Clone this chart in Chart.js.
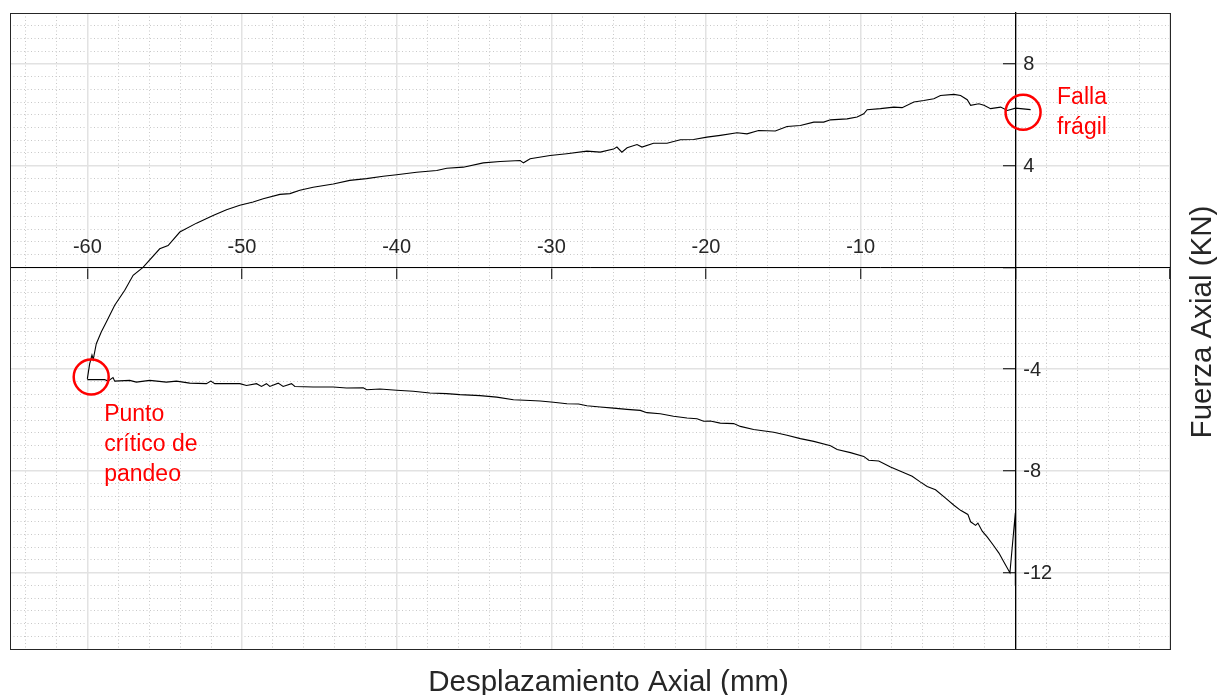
<!DOCTYPE html>
<html>
<head>
<meta charset="utf-8">
<script src="https://cdn.jsdelivr.net/npm/chart.js@4.4.1/dist/chart.umd.min.js"></script>
<style>
  html, body { margin: 0; padding: 0; background: #fff; }
  canvas { display: block; }
</style>
</head>
<body>
<canvas id="grafico" width="1228" height="695"></canvas>
<script>
// Tramo de compresion (de 0 hacia el punto de pandeo)
const tramoInferiorX = [0, 0, -0.35, -0.74, -1.06, -1.42, -1.81, -2.14, -2.42, -2.57,
  -2.89, -3.07, -3.54, -3.97, -4.51, -5.16, -5.7, -6.13, -6.67, -7.31,
  -8.07, -8.83, -9.48, -9.8, -10.66, -11.52, -11.95, -13.03, -13.9, -14.76,
  -15.62, -16.92, -17.78, -18.21, -19.08, -19.72, -20.15, -20.58, -21.23, -22.1,
  -22.96, -23.82, -24.25, -25.11, -25.98, -26.84, -27.7, -28.24, -28.99, -29.86,
  -30.72, -31.37, -32.45, -33.53, -34.61, -35.91, -36.77, -37.85, -38.93, -40.0,
  -41.08, -41.94, -42.16, -43.24, -44.1, -45.4, -46.58, -46.8, -47.34, -47.66,
  -48.2, -48.42, -48.74, -49.06, -49.71, -50.14, -51.76, -52.02, -52.3, -53.38,
  -54.24, -54.89, -55.97, -56.83, -57.26, -58.23, -58.34, -58.67, -58.88, -60.0];
const tramoInferiorY = [-12.5, -9.65, -12.0, -11.58, -11.23, -10.92, -10.6, -10.37, -10.05, -10.14,
  -10.0, -9.71, -9.55, -9.35, -9.07, -8.74, -8.61, -8.44, -8.21, -8.04,
  -7.85, -7.61, -7.58, -7.43, -7.28, -7.16, -7.01, -6.84, -6.73, -6.6,
  -6.48, -6.37, -6.25, -6.14, -6.12, -6.04, -6.05, -5.95, -5.92, -5.85,
  -5.75, -5.71, -5.62, -5.58, -5.53, -5.49, -5.44, -5.37, -5.36, -5.3,
  -5.25, -5.23, -5.2, -5.1, -5.04, -5.0, -4.96, -4.94, -4.87, -4.83,
  -4.78, -4.81, -4.73, -4.74, -4.7, -4.7, -4.68, -4.57, -4.68, -4.55,
  -4.68, -4.57, -4.68, -4.57, -4.64, -4.57, -4.57, -4.47, -4.57, -4.55,
  -4.47, -4.51, -4.44, -4.51, -4.44, -4.47, -4.33, -4.47, -4.41, -4.41];

// Tramo de retorno (del pandeo hasta la falla)
const tramoSuperiorX = [-60.0, -59.85, -59.7, -59.62, -59.42, -59.1, -58.77, -58.23, -57.58, -57.04, -56.4, -55.32,
  -54.78, -54.02, -52.94, -51.87, -51.0, -50.14, -49.28, -48.63, -47.55, -46.9,
  -46.26, -45.4, -44.1, -43.03, -41.95, -40.87, -40.0, -38.71, -37.41, -36.76,
  -35.69, -34.4, -33.31, -32.02, -31.8, -31.37, -30.08, -29.0, -27.7, -26.84,
  -25.98, -25.76, -25.44, -25.1, -24.46, -24.14, -23.39, -22.52, -21.66, -20.8,
  -19.94, -19.07, -17.99, -17.35, -16.6, -15.52, -14.76, -13.9, -13.03, -12.39,
  -11.95, -10.88, -10.23, -9.8, -9.58, -8.72, -7.86, -7.32, -6.56, -5.92,
  -5.27, -4.84, -3.97, -3.54, -3.11, -2.89, -2.36, -2.03, -1.6, -0.95,
  -0.52, 0.02, 0.34, 0.99];
const tramoSuperiorY = [-4.38, -3.79, -3.45, -3.62, -3.0, -2.54, -2.15, -1.49, -0.9, -0.31, 0.0, 0.73,
  0.86, 1.39, 1.74, 2.04, 2.27, 2.44, 2.57, 2.7, 2.87, 2.9,
  3.03, 3.15, 3.28, 3.42, 3.49, 3.58, 3.64, 3.74, 3.81, 3.9,
  3.94, 4.11, 4.16, 4.2, 4.11, 4.27, 4.4, 4.47, 4.57, 4.53,
  4.65, 4.73, 4.53, 4.7, 4.83, 4.73, 4.88, 4.88, 5.02, 5.03,
  5.12, 5.19, 5.29, 5.25, 5.38, 5.36, 5.54, 5.58, 5.71, 5.71,
  5.8, 5.84, 5.91, 6.04, 6.2, 6.24, 6.3, 6.28, 6.5, 6.56,
  6.63, 6.76, 6.8, 6.76, 6.59, 6.37, 6.43, 6.37, 6.24, 6.3,
  6.17, 6.26, 6.24, 6.2];

// Marcas rojas: centro del circulo (en unidades del grafico) y texto
const notasX = [0.5, -59.75];
const notasY = [6.1, -4.31];
const notasTexto = [["Falla", "frágil"], ["Punto", "crítico de", "pandeo"]];

const tituloX = "Desplazamiento Axial (mm)";
const tituloY = "Fuerza Axial (KN)";

const puntos = (xs, ys) => xs.map((x, i) => ({ x: x, y: ys[i] }));

const fuente = "'Liberation Sans', Arial, sans-serif";
const gris = '#262626';

// Dibuja marco, etiquetas del eje Y, titulos y anotaciones
const extras = {
  id: 'extras',
  afterDraw(chart) {
    const { ctx, chartArea: a } = chart;
    const sx = chart.scales.x;
    const sy = chart.scales.y;
    ctx.save();
    ctx.strokeStyle = gris;
    ctx.lineWidth = 1;
    ctx.strokeRect(a.left + 0.5, a.top + 0.5, a.right - a.left, a.bottom - a.top);

    // etiquetas del eje Y a la derecha del eje
    const x0 = sx.getPixelForValue(0);
    ctx.fillStyle = gris;
    ctx.font = '20px ' + fuente;
    ctx.textAlign = 'left';
    ctx.textBaseline = 'middle';
    sy.ticks.forEach(t => {
      if (t.value === 0) return;
      ctx.fillText(String(t.value), x0 + 8, sy.getPixelForValue(t.value) + 1);
    });

    // titulos
    ctx.font = '29.5px ' + fuente;
    ctx.textAlign = 'center';
    ctx.fillText(tituloX, sx.getPixelForValue(-26.3), 683);
    ctx.save();
    ctx.translate(1203, (a.top + a.bottom) / 2 - 9);
    ctx.rotate(-Math.PI / 2);
    ctx.fillText(tituloY, 0, 0);
    ctx.restore();

    // anotaciones
    ctx.strokeStyle = '#ff0000';
    ctx.fillStyle = '#ff0000';
    ctx.lineWidth = 2.5;
    ctx.font = '23px ' + fuente;
    ctx.textAlign = 'left';
    ctx.textBaseline = 'alphabetic';
    notasX.forEach((vx, i) => {
      const px = sx.getPixelForValue(vx);
      const py = sy.getPixelForValue(notasY[i]);
      ctx.beginPath();
      ctx.arc(px, py, 17.5, 0, Math.PI * 2);
      ctx.stroke();
      const lineas = notasTexto[i];
      const tx = i === 0 ? px + 34 : px + 13;
      const ty = i === 0 ? py - 8 : py + 44;
      lineas.forEach((l, k) => ctx.fillText(l, tx, ty + k * 30));
    });
    ctx.restore();
  }
};

const rejillaMenor = (paso, mayor) => ({
  type: 'linear',
  display: true,
  ticks: { display: false, stepSize: paso, includeBounds: false },
  border: { display: false, dash: [1, 2.5] },
  grid: {
    drawTicks: false,
    lineWidth: 1,
    color: c => {
      const v = c.tick ? c.tick.value : 0;
      return Math.abs(v % mayor) < 1e-6 ? 'rgba(0,0,0,0)' : '#c8c8c8';
    }
  }
});

new Chart(document.getElementById('grafico'), {
  type: 'scatter',
  data: {
    datasets: [
      { data: puntos(tramoInferiorX, tramoInferiorY) },
      { data: puntos(tramoSuperiorX, tramoSuperiorY) }
    ]
  },
  options: {
    responsive: false,
    animation: false,
    showLine: true,
    layout: { padding: { left: 10, top: 13, right: 58, bottom: 46 } },
    elements: {
      point: { radius: 0, hoverRadius: 0 },
      line: { borderColor: '#000', borderWidth: 1.1, tension: 0, fill: false }
    },
    plugins: { legend: { display: false }, tooltip: { enabled: false } },
    scales: {
      xm: Object.assign(rejillaMenor(2, 10), { position: 'bottom', min: -65, max: 10 }),
      ym: Object.assign(rejillaMenor(0.5, 4), { position: 'left', min: -15, max: 10 }),
      x: {
        type: 'linear',
        position: { y: 0 },
        min: -65, max: 10,
        ticks: {
          stepSize: 10,
          includeBounds: false,
          padding: -43,
          color: gris,
          font: { family: fuente, size: 20 },
          callback: v => (v === 0 || v === 10) ? '' : String(v)
        },
        border: { display: true, color: '#000', width: 1 },
        grid: { color: '#e2e2e2', lineWidth: 1.5, tickColor: '#000', tickLength: 11, tickWidth: 1 }
      },
      y: {
        type: 'linear',
        position: { x: 0 },
        min: -15, max: 10,
        ticks: { stepSize: 4, includeBounds: false, display: false },
        border: { display: true, color: '#000', width: 1.3 },
        grid: { color: '#e2e2e2', lineWidth: 1.5, tickColor: '#000', tickLength: 12, tickWidth: 1 }
      }
    }
  },
  plugins: [extras]
});
</script>
</body>
</html>
